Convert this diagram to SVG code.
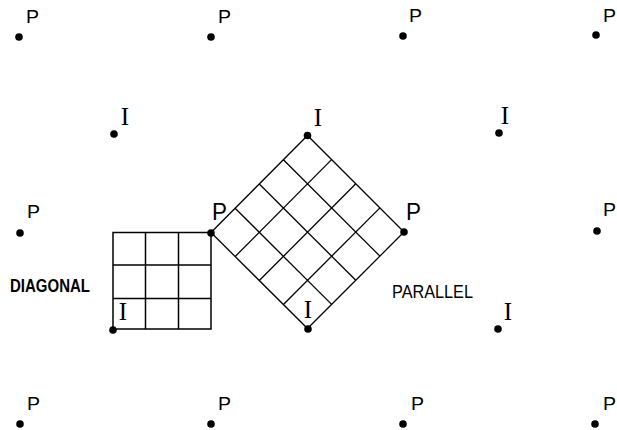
<svg xmlns="http://www.w3.org/2000/svg" width="617" height="430" viewBox="0 0 617 430">
<style>
.dot{fill:#000}
.p{font-family:"Liberation Sans",Arial,sans-serif;font-size:18px;fill:#000}
.pb{font-family:"Liberation Sans",Arial,sans-serif;font-size:23px;fill:#000}
.i{font-family:"Liberation Serif","Times New Roman",serif;font-size:25px;fill:#000;text-anchor:middle}
.lbl{font-family:"Liberation Sans",Arial,sans-serif;font-size:19px;font-weight:bold;fill:#000}
.g{fill:none;stroke:#000;stroke-width:1.5}
.d{fill:none;stroke:#000;stroke-width:1.3}
</style>
<rect width="617" height="430" fill="#fff"/>
<g id="connectors">
  <g id="square-grid">
    <rect class="g" x="113" y="232.5" width="98" height="96.5"/>
    <line class="g" x1="145.5" y1="232.5" x2="145.5" y2="329"/>
    <line class="g" x1="178.5" y1="232.5" x2="178.5" y2="329"/>
    <line class="g" x1="113" y1="265" x2="211" y2="265"/>
    <line class="g" x1="113" y1="298.5" x2="211" y2="298.5"/>
  </g>
  <g id="diamond-grid">
    <polygon class="d" points="211,232.5 307.5,135.5 404,232 307.5,328.5"/>
    <line class="d" x1="235.1" y1="256.6" x2="331.6" y2="159.6"/>
    <line class="d" x1="259.3" y1="280.5" x2="355.8" y2="183.8"/>
    <line class="d" x1="283.4" y1="304.5" x2="379.9" y2="207.9"/>
    <line class="d" x1="235.1" y1="208.2" x2="331.6" y2="304.4"/>
    <line class="d" x1="259.3" y1="184" x2="355.8" y2="280.3"/>
    <line class="d" x1="283.4" y1="159.8" x2="379.9" y2="256.1"/>
  </g>
</g>
<g id="p-0-0"><circle class="dot" cx="19" cy="37" r="3.8"/><text class="p" x="26" y="23" textLength="13" lengthAdjust="spacingAndGlyphs">P</text></g>
<g id="p-1-0"><circle class="dot" cx="211" cy="37" r="3.8"/><text class="p" x="218" y="23" textLength="13" lengthAdjust="spacingAndGlyphs">P</text></g>
<g id="p-2-0"><circle class="dot" cx="403" cy="36" r="3.8"/><text class="p" x="409" y="22" textLength="13" lengthAdjust="spacingAndGlyphs">P</text></g>
<g id="p-3-0"><circle class="dot" cx="596" cy="35" r="3.8"/><text class="p" x="603" y="22" textLength="13" lengthAdjust="spacingAndGlyphs">P</text></g>
<g id="p-0-1"><circle class="dot" cx="20" cy="233" r="3.8"/><text class="p" x="27" y="218" textLength="13" lengthAdjust="spacingAndGlyphs">P</text></g>
<g id="p-1-1"><circle class="dot" cx="211" cy="233" r="3.8"/><text class="pb" x="212" y="220" textLength="15" lengthAdjust="spacingAndGlyphs">P</text></g>
<g id="p-2-1"><circle class="dot" cx="404" cy="232" r="3.8"/><text class="pb" x="406" y="220" textLength="15" lengthAdjust="spacingAndGlyphs">P</text></g>
<g id="p-3-1"><circle class="dot" cx="597" cy="231" r="3.8"/><text class="p" x="603" y="216" textLength="13" lengthAdjust="spacingAndGlyphs">P</text></g>
<g id="p-0-2"><circle class="dot" cx="20" cy="424" r="3.8"/><text class="p" x="27" y="410" textLength="13" lengthAdjust="spacingAndGlyphs">P</text></g>
<g id="p-1-2"><circle class="dot" cx="211" cy="424" r="3.8"/><text class="p" x="218" y="410" textLength="13" lengthAdjust="spacingAndGlyphs">P</text></g>
<g id="p-2-2"><circle class="dot" cx="403" cy="424" r="3.8"/><text class="p" x="411" y="410" textLength="13" lengthAdjust="spacingAndGlyphs">P</text></g>
<g id="p-3-2"><circle class="dot" cx="595" cy="424" r="3.8"/><text class="p" x="603" y="410" textLength="13" lengthAdjust="spacingAndGlyphs">P</text></g>
<g id="i-0-0"><circle class="dot" cx="114" cy="134" r="3.8"/><text class="i" x="125" y="125">I</text></g>
<g id="i-1-0"><circle class="dot" cx="307.5" cy="135.5" r="3.8"/><text class="i" x="318" y="126">I</text></g>
<g id="i-2-0"><circle class="dot" cx="499" cy="133" r="3.8"/><text class="i" x="505" y="124">I</text></g>
<g id="i-0-1"><circle class="dot" cx="113" cy="330" r="3.8"/><text class="i" x="123" y="320">I</text></g>
<g id="i-1-1"><circle class="dot" cx="308" cy="329" r="3.8"/><text class="i" x="308" y="318">I</text></g>
<g id="i-2-1"><circle class="dot" cx="498" cy="329" r="3.8"/><text class="i" x="508" y="320">I</text></g>
<g id="label-diagonal"><text class="lbl" x="10" y="292" textLength="80" lengthAdjust="spacingAndGlyphs">DIAGONAL</text></g>
<g id="label-parallel"><text class="lbl" x="392" y="298" textLength="81" lengthAdjust="spacingAndGlyphs" style="font-weight:normal">PARALLEL</text></g>
</svg>
